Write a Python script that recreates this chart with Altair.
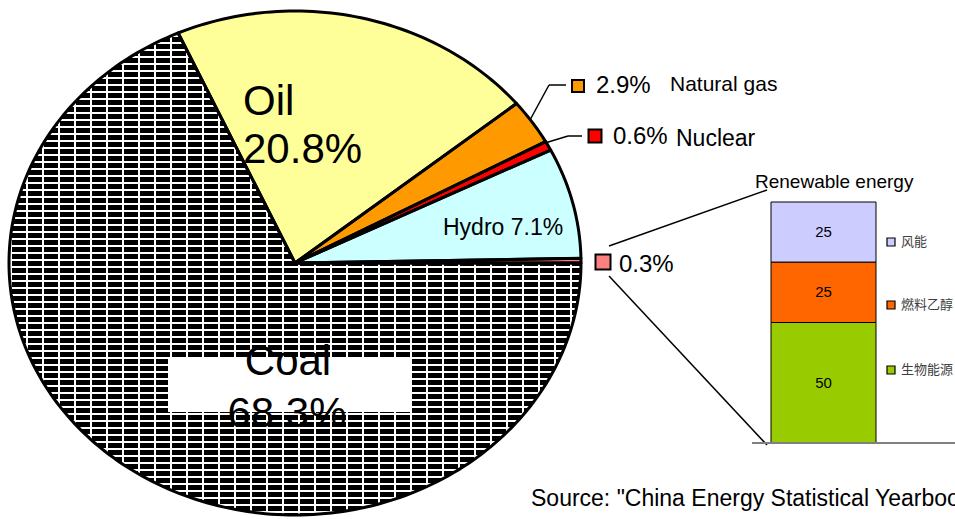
import math
import altair as alt
import pandas as pd

# ---------------- data ----------------
sources = ["Coal", "Oil", "Natural gas", "Nuclear", "Hydro", "Renewable energy"]
shares = [68.3, 20.8, 2.9, 0.6, 7.1, 0.3]
pie_colors = ["#000000", "#FFFF99", "#FF9900", "#FF0000", "#CCFFFF", "#FF8080"]

renew_group = "Renewable energy"
renew_parts = ["风能", "燃料乙醇", "生物能源"]
renew_values = [25, 25, 50]
renew_colors = ["#CCCCFF", "#FF6600", "#99CC00"]

source_note = 'Source: "China Energy Statistical Yearbook"'

# ---------------- layout / style ----------------
FONT = "Liberation Sans, Arial, sans-serif"
CJK = "Noto Sans CJK SC"
CX, CY, RX, RY = 295, 263, 286, 252   # pie centre and (elliptical) radii in pixels
START = math.pi / 2                    # first slice starts at 3 o'clock, clockwise

# --- pie as polygons in unit coordinates; scales stretch them to the ellipse ---
rows = []
acc = 0.0
for i, (s, v) in enumerate(zip(sources, shares)):
    n = max(3, int(round(v * 3)))
    for step in range(-1, n + 2):
        rows.append({"source": s, "idx": i, "start": acc, "share": v, "n": n, "step": step})
    acc += v
poly_df = pd.DataFrame(rows)

calc = dict(
    ang=f"{START} + 2 * PI * (datum.start + datum.share * clamp(datum.step, 0, datum.n) / datum.n) / 100",
)
edge = "(datum.step < 0 || datum.step > datum.n)"
ux_expr = f"{edge} ? 0 : sin(datum.ang)"
uy_expr = f"{edge} ? 0 : cos(datum.ang)"

px_scale = alt.Scale(domain=[-1, 1], range=[CX - RX, CX + RX], nice=False, zero=False)
py_scale = alt.Scale(domain=[-1, 1], range=[CY + RY, CY - RY], nice=False, zero=False)

# bounding box of coal slice (for the brick-like gradient fill)
th0 = START
th1 = START + 2 * math.pi * shares[0] / 100
xs, ys = [CX], [CY]
for i in range(801):
    t = th0 + (th1 - th0) * i / 800
    xs.append(CX + RX * math.sin(t))
    ys.append(CY - RY * math.cos(t))
top, bot, left, right = min(ys), max(ys), min(xs), max(xs)


def stripes(lo, hi, phase, period, dark, c_dark, c_light, vertical):
    span = hi - lo

    def off(v):
        return round(min(max((v - lo) / span, 0.0), 1.0), 5)

    st = [{"offset": 0, "color": c_light}]
    k = math.floor((lo - phase) / period) - 1
    p = phase + period * k
    while p < hi:
        a, b = off(p), off(p + dark)
        st += [
            {"offset": a, "color": c_light},
            {"offset": a, "color": c_dark},
            {"offset": b, "color": c_dark},
            {"offset": b, "color": c_light},
        ]
        p += period
    st.append({"offset": 1, "color": c_light})
    if vertical:
        return {"gradient": "linear", "x1": 0, "y1": 0, "x2": 0, "y2": 1, "stops": st}
    return {"gradient": "linear", "x1": 0, "y1": 0, "x2": 1, "y2": 0, "stops": st}


brick_rows = stripes(top, bot, 204.7, 7.0, 5.0, "#000000", "#ffffff", True)
brick_joints = stripes(left, right, 10.0, 16.0, 2.0, "rgba(255,255,255,1)", "rgba(255,255,255,0)", False)


def pie_base():
    return alt.Chart(poly_df).transform_calculate(**calc).transform_calculate(
        ux=ux_expr, uy=uy_expr
    )


pos = dict(
    x=alt.X("ux:Q", scale=px_scale, axis=None),
    y=alt.Y("uy:Q", scale=py_scale, axis=None),
    order=alt.Order("step:Q"),
    detail="source:N",
)

pie_fill = pie_base().mark_line(filled=True, strokeWidth=0).encode(
    fill=alt.condition(
        "datum.source === 'Coal'",
        alt.value(brick_rows),
        alt.Fill("source:N", scale=alt.Scale(domain=sources, range=pie_colors), legend=None),
    ),
    **pos,
)
pie_joints = (
    pie_base()
    .transform_filter("datum.source === 'Coal'")
    .mark_line(filled=True, strokeWidth=0, fill=brick_joints)
    .encode(**pos)
)
pie_outline = pie_base().mark_line(
    filled=False, color="black", strokeWidth=3, strokeJoin="round"
).encode(**pos)


def label(text, x, y, size, align="left", color="black", font=FONT):
    return (
        alt.Chart(pd.DataFrame({"t": [text]}))
        .mark_text(fontSize=size, font=font, align=align, baseline="alphabetic", color=color)
        .encode(text="t:N", x=alt.value(x), y=alt.value(y))
    )


# white box behind the Coal label
white_box = (
    alt.Chart(pd.DataFrame({"a": [0]}))
    .mark_rect(fill="white")
    .encode(x=alt.value(168), x2=alt.value(411), y=alt.value(359), y2=alt.value(412))
)

# leader lines
seg = pd.DataFrame({
    "x": [530, 549, 545, 568, 609, 609],
    "y": [120, 85, 143, 136, 246, 276],
    "x2": [549, 566, 568, 582, 767, 767],
    "y2": [85, 85, 136, 136, 190, 445],
})
leaders = alt.Chart(seg).mark_rule(color="black", strokeWidth=1.5).encode(
    x=alt.X("x:Q", scale=None), y=alt.Y("y:Q", scale=None),
    x2="x2:Q", y2="y2:Q",
)

# marker squares for small slices
mk = pd.DataFrame({
    "source": [sources[2], sources[3], sources[5]],
    "mx": [578, 595, 603],
    "my": [86, 136, 262],
    "s": [144, 169, 225],
})
markers = alt.Chart(mk).mark_square(stroke="black", strokeWidth=2, opacity=1).encode(
    x=alt.X("mx:Q", scale=None), y=alt.Y("my:Q", scale=None),
    size=alt.Size("s:Q", scale=None, legend=None),
    fill=alt.Fill("source:N", scale=alt.Scale(domain=sources, range=pie_colors), legend=None),
)

# stacked renewable bar
bar_df = pd.DataFrame({
    "group": [renew_group] * 3,
    "part": renew_parts,
    "value": renew_values,
    "ord": [2, 1, 0],
})
bar_x = alt.Scale(domain=[renew_group], range=[771, 876], paddingInner=0, paddingOuter=0)
bar_y = alt.Scale(domain=[0, 100], range=[443, 202])
bars = alt.Chart(bar_df).mark_bar(stroke="black", strokeWidth=1).encode(
    x=alt.X("group:N", scale=bar_x, axis=None),
    y=alt.Y("value:Q", scale=bar_y, axis=None, stack="zero"),
    fill=alt.Fill("part:N", scale=alt.Scale(domain=renew_parts, range=renew_colors), legend=None),
    order=alt.Order("ord:Q"),
)
bar_text = (
    alt.Chart(bar_df)
    .transform_stack(stack="value", groupby=["group"], as_=["v0", "v1"], sort=[alt.SortField("ord")])
    .transform_calculate(mid="(datum.v0 + datum.v1) / 2")
    .mark_text(fontSize=15, font=FONT, color="black", baseline="middle")
    .encode(
        x=alt.X("group:N", scale=bar_x, axis=None),
        y=alt.Y("mid:Q", scale=bar_y, axis=None),
        text="value:Q",
    )
)
baseline = (
    alt.Chart(pd.DataFrame({"a": [0]}))
    .mark_rule(color="#808080", strokeWidth=2)
    .encode(x=alt.value(752), x2=alt.value(955), y=alt.value(443))
)

# legend for the renewable bar
leg_y = [242, 305, 370]
leg_df = pd.DataFrame({"part": renew_parts, "ly": leg_y})
leg_sym = alt.Chart(leg_df).mark_square(size=64, stroke="black", strokeWidth=1.2, opacity=1).encode(
    x=alt.value(891), y=alt.Y("ly:Q", scale=None),
    fill=alt.Fill("part:N", scale=alt.Scale(domain=renew_parts, range=renew_colors), legend=None),
)
leg_txt = alt.Chart(leg_df).mark_text(fontSize=13, font=CJK, color="#404040", align="left",
                                      baseline="middle").encode(
    x=alt.value(901), y=alt.Y("ly:Q", scale=None), text="part:N",
)

layers = [
    pie_fill,
    pie_joints,
    pie_outline,
    white_box,
    label("Oil", 243, 115, 42),
    label(f"{shares[1]}%", 243, 163, 42),
    label("Coal", 288, 375, 42, align="center"),
    label(f"{shares[0]}%", 287, 427, 42, align="center"),
    label(f"Hydro {shares[4]}%", 443, 235, 23),
    leaders,
    markers,
    label(f"{shares[2]}%", 596, 93, 24),
    label("Natural gas", 670, 91, 21),
    label(f"{shares[3]}%", 613, 144, 24),
    label("Nuclear", 676, 146, 23),
    label(f"{shares[5]}%", 619, 272, 24),
    bars,
    bar_text,
    baseline,
    label(renew_group, 755, 188, 19),
    leg_sym,
    leg_txt,
    label(source_note, 531, 506, 23),
]

chart = (
    alt.layer(*layers)
    .resolve_scale(x="independent", y="independent", fill="independent", size="independent")
    .properties(width=955, height=519, autosize=alt.AutoSizeParams(type="none"), padding=0)
    .configure_view(stroke=None)
)

chart.save("out.html", embed_options={"renderer": "svg", "actions": False})
